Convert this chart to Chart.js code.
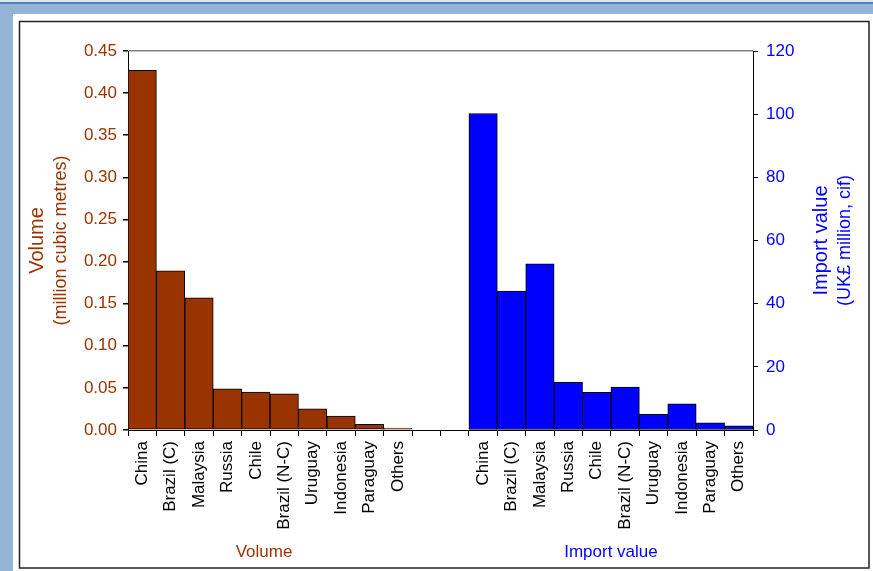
<!DOCTYPE html>
<html>
<head>
<meta charset="utf-8">
<script src="https://cdn.jsdelivr.net/npm/chart.js@4.4.1/dist/chart.umd.min.js"></script>
<style>
html,body{margin:0;padding:0;background:#fff;}
#wrap{width:873px;height:571px;position:relative;}
</style>
</head>
<body>
<div id="wrap"><canvas id="c" width="873" height="571"></canvas></div>
<script>
// ---- data ----
const countries = ['China','Brazil (C)','Malaysia','Russia','Chile','Brazil (N-C)','Uruguay','Indonesia','Paraguay','Others'];
const volumeValues = [0.427, 0.189, 0.157, 0.049, 0.045, 0.043, 0.025, 0.0166, 0.0068, 0.0024];
const importValues = [100.2, 44.0, 52.6, 15.1, 11.9, 13.6, 5.0, 8.3, 2.3, 1.3];
const gapLabels = ['', ''];
const volumeTicks = {min: 0, max: 0.45, step: 0.05};
const importTicks = {min: 0, max: 120, step: 20};
const groupTitles = ['Volume', 'Import value'];

const labels = [...countries, ...gapLabels, ...countries];
const nGap = gapLabels.length;
const volData = [...volumeValues, ...new Array(nGap + countries.length).fill(null)];
const impData = [...new Array(countries.length + nGap).fill(null), ...importValues];

const BROWN = '#993300';
const BLUE = '#0000ff';
const FONT = "'Liberation Sans', Arial, sans-serif";

const framePlugin = {
  id: 'frame',
  beforeDraw(chart) {
    const ctx = chart.ctx;
    ctx.save();
    ctx.fillStyle = '#95b3d7';
    ctx.fillRect(0, 0, 873, 571);
    ctx.fillStyle = '#dbe5f1';
    ctx.fillRect(0, 0, 873, 2);
    ctx.fillStyle = '#4f81bd';
    ctx.fillRect(0, 2, 873, 2);
    ctx.fillStyle = '#ffffff';
    ctx.fillRect(13, 14, 860, 557);
    ctx.strokeStyle = '#222';
    ctx.lineWidth = 1.5;
    ctx.strokeRect(19.5, 21.5, 849.5, 546.5);
    ctx.restore();
  },
  afterDraw(chart) {
    const ctx = chart.ctx;
    const xs = chart.scales.x;
    const area = chart.chartArea;
    const midY = (area.top + area.bottom) / 2;
    ctx.save();
    // axis titles
    const drawRot = (text, x, y, font, color) => {
      ctx.save();
      ctx.translate(x, y);
      ctx.rotate(-Math.PI / 2);
      ctx.font = font;
      ctx.fillStyle = color;
      ctx.textAlign = 'center';
      ctx.textBaseline = 'middle';
      ctx.fillText(text, 0, 0);
      ctx.restore();
    };
    drawRot('Volume', 37, midY, '20px ' + FONT, BROWN);
    drawRot('(million cubic metres)', 61, midY, '18px ' + FONT, BROWN);
    drawRot('Import value', 821, midY, '20px ' + FONT, BLUE);
    drawRot('(UK£ million, cif)', 845, midY, '18px ' + FONT, BLUE);
    // group titles under the category labels
    ctx.font = '17px ' + FONT;
    ctx.textAlign = 'center';
    ctx.textBaseline = 'middle';
    const n = countries.length;
    const c1 = (xs.getPixelForValue(0) + xs.getPixelForValue(n - 1)) / 2;
    const c2 = (xs.getPixelForValue(n + nGap) + xs.getPixelForValue(2 * n + nGap - 1)) / 2;
    ctx.fillStyle = BROWN;
    ctx.fillText(groupTitles[0], c1 - 6, 552);
    ctx.fillStyle = BLUE;
    ctx.fillText(groupTitles[1], c2, 552);
    ctx.restore();
  }
};

new Chart(document.getElementById('c'), {
  type: 'bar',
  data: {
    labels: labels,
    datasets: [
      {label: 'Volume', data: volData, yAxisID: 'y', backgroundColor: BROWN, borderColor: '#000', borderWidth: 1, borderSkipped: false},
      {label: 'Import value', data: impData, yAxisID: 'y1', backgroundColor: BLUE, borderColor: '#000', borderWidth: 1, borderSkipped: false}
    ]
  },
  options: {
    responsive: false,
    animation: false,
    devicePixelRatio: 1,
    layout: {padding: {top: 51, left: 0, right: 0, bottom: 0}},
    datasets: {bar: {grouped: false, barPercentage: 1, categoryPercentage: 1}},
    plugins: {legend: {display: false}, tooltip: {enabled: false}},
    scales: {
      x: {
        offset: true,
        grid: {offset: true, drawOnChartArea: false, tickLength: 6, tickColor: '#000', lineWidth: 1},
        border: {color: '#000', width: 1},
        ticks: {color: '#000', font: {family: FONT, size: 17}, minRotation: 90, maxRotation: 90, padding: 5, autoSkip: false},
        afterFit(s) { s.height = 141; }
      },
      y: {
        position: 'left',
        min: volumeTicks.min, max: volumeTicks.max,
        ticks: {stepSize: volumeTicks.step, color: BROWN, font: {family: FONT, size: 17}, padding: 6,
          callback: v => Number(v).toFixed(2)},
        grid: {color: c => (c.tick && Math.abs(c.tick.value - volumeTicks.max) < 1e-9) ? '#808080' : 'rgba(0,0,0,0)',
               tickColor: '#000', tickLength: 5, lineWidth: 1.5},
        border: {color: '#000', width: 1},
        afterFit(s) { s.width = 128; }
      },
      y1: {
        position: 'right',
        min: importTicks.min, max: importTicks.max,
        ticks: {stepSize: importTicks.step, color: BLUE, font: {family: FONT, size: 17}, padding: 8},
        grid: {drawOnChartArea: false, tickColor: '#000', tickLength: 5},
        border: {color: '#000', width: 1},
        afterFit(s) { s.width = 120; }
      }
    }
  },
  plugins: [framePlugin]
});
</script>
</body>
</html>
